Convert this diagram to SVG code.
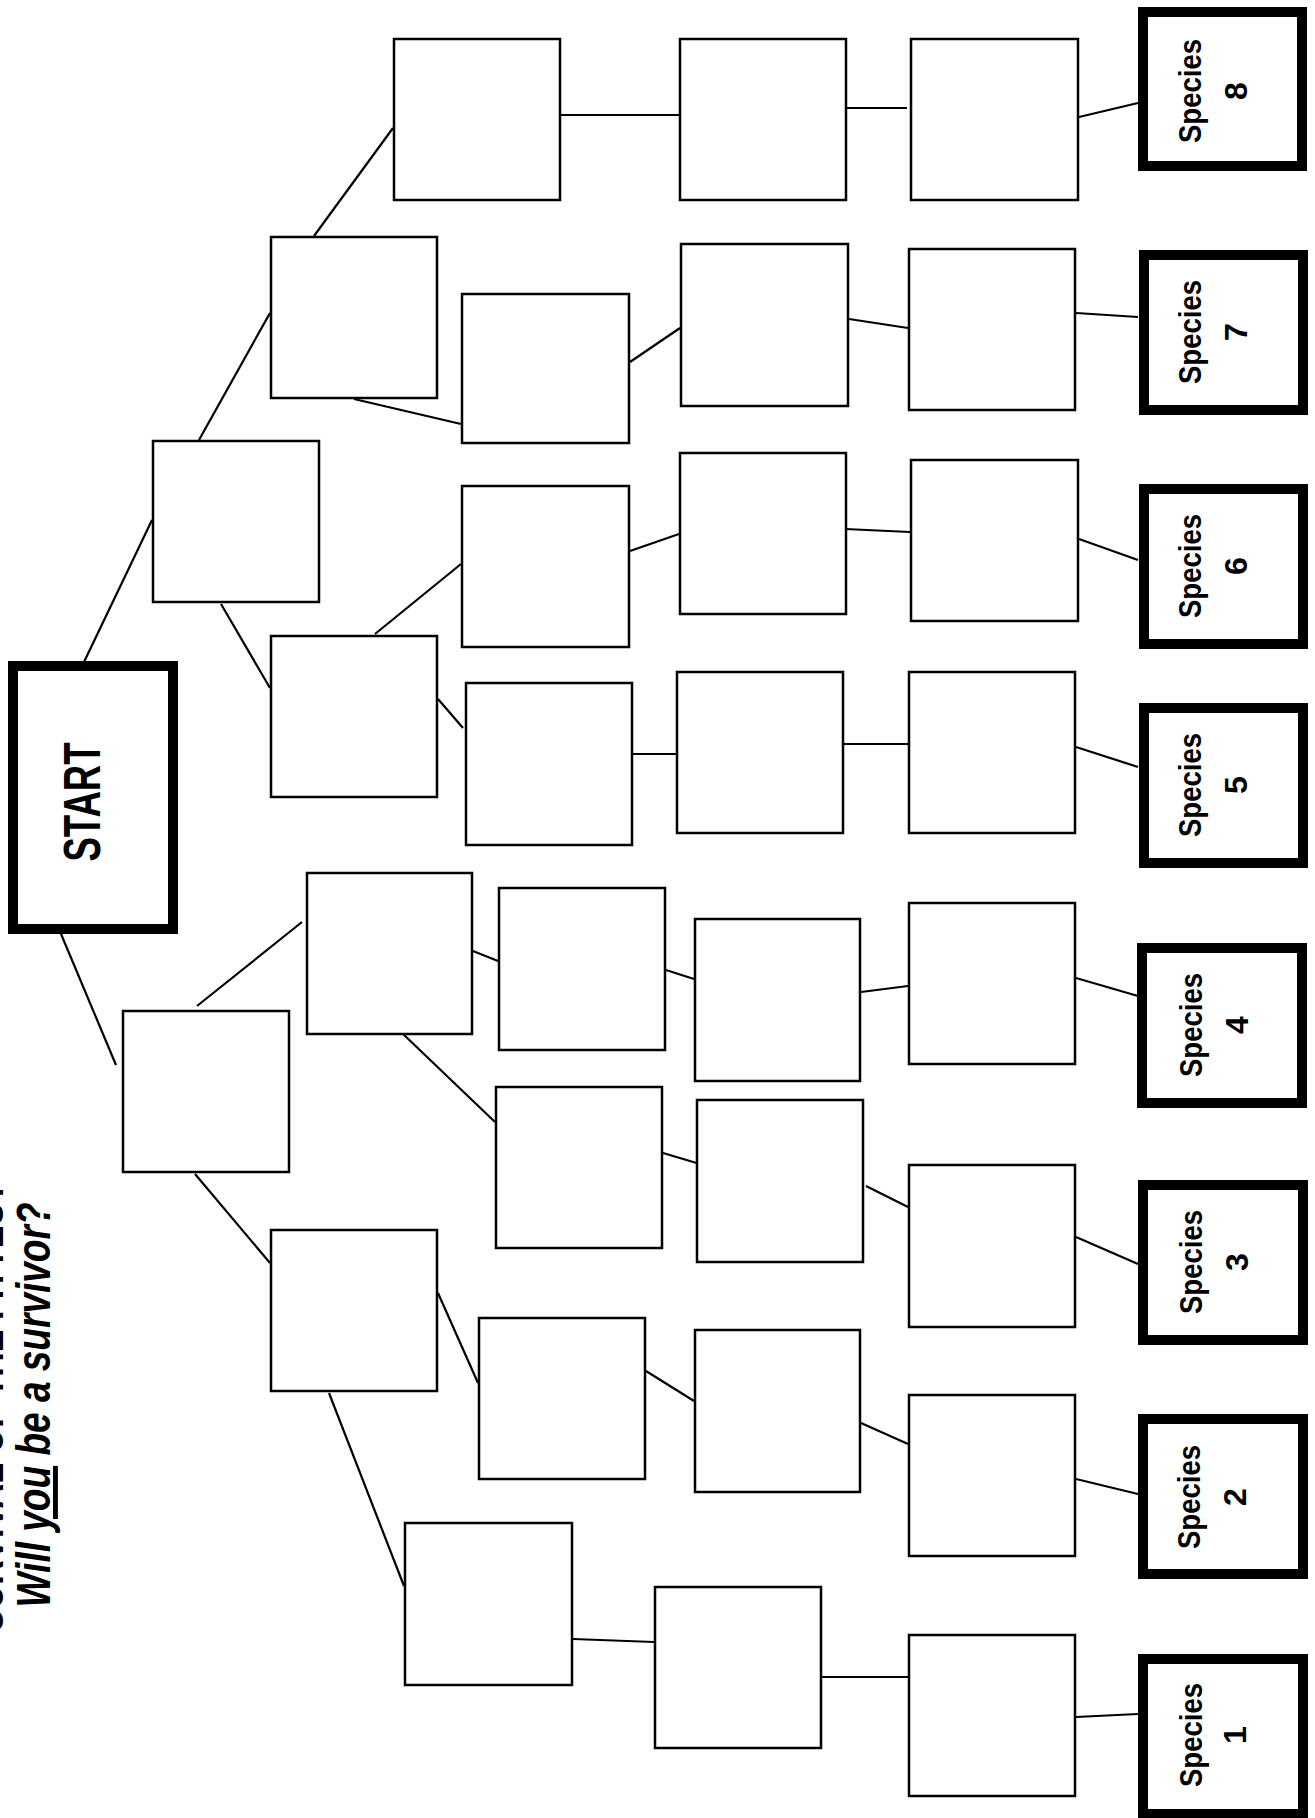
<svg xmlns="http://www.w3.org/2000/svg" width="1315" height="1818" viewBox="0 0 1315 1818">
<style>
.box{fill:#fff;stroke:#000;stroke-width:2.5}
.sp{fill:#fff;stroke:#000;stroke-width:10}
.st{fill:#fff;stroke:#000;stroke-width:10}
.ln{stroke:#000;stroke-width:2.2;fill:none}
.lbl{font-family:"Liberation Sans Narrow","Liberation Sans",Arial,sans-serif;font-weight:bold;fill:#000}
.ttl{font-family:"Liberation Sans Narrow","Liberation Sans",Arial,sans-serif;font-weight:bold;font-size:49px;fill:#000}
</style>
<rect width="1315" height="1818" fill="#fff"/>
<g id="title">
<text class="ttl" text-anchor="middle" textLength="450" lengthAdjust="spacingAndGlyphs" transform="translate(3,1407) rotate(-90)">SURVIVAL OF THE FITTEST</text>
<text class="ttl" font-style="italic" text-anchor="middle" textLength="405" lengthAdjust="spacingAndGlyphs" transform="translate(50,1405) rotate(-90)">Will <tspan text-decoration="underline">you</tspan> be a survivor?</text>
</g>
<g id="connectors">
<line class="ln" x1="84" y1="662" x2="152" y2="520"/>
<line class="ln" x1="56" y1="922" x2="116" y2="1065"/>
<line class="ln" x1="199" y1="440" x2="270" y2="313"/>
<line class="ln" x1="221" y1="604" x2="270" y2="688"/>
<line class="ln" x1="314" y1="236" x2="393" y2="128"/>
<line class="ln" x1="354" y1="399" x2="461" y2="424"/>
<line class="ln" x1="561" y1="115" x2="679" y2="115"/>
<line class="ln" x1="845" y1="108" x2="907" y2="108"/>
<line class="ln" x1="1079" y1="117" x2="1138" y2="103"/>
<line class="ln" x1="630" y1="362" x2="680" y2="328"/>
<line class="ln" x1="849" y1="319" x2="908" y2="328"/>
<line class="ln" x1="1076" y1="313" x2="1138" y2="317"/>
<line class="ln" x1="375" y1="634" x2="461" y2="564"/>
<line class="ln" x1="630" y1="551" x2="679" y2="534"/>
<line class="ln" x1="845" y1="529" x2="910" y2="532"/>
<line class="ln" x1="1079" y1="539" x2="1138" y2="560"/>
<line class="ln" x1="438" y1="699" x2="463" y2="728"/>
<line class="ln" x1="633" y1="754" x2="676" y2="754"/>
<line class="ln" x1="844" y1="744" x2="908" y2="744"/>
<line class="ln" x1="1076" y1="747" x2="1138" y2="767"/>
<line class="ln" x1="197" y1="1006" x2="302" y2="922"/>
<line class="ln" x1="195" y1="1174" x2="270" y2="1263"/>
<line class="ln" x1="473" y1="951" x2="498" y2="961"/>
<line class="ln" x1="666" y1="970" x2="694" y2="979"/>
<line class="ln" x1="861" y1="992" x2="908" y2="986"/>
<line class="ln" x1="1076" y1="978" x2="1138" y2="996"/>
<line class="ln" x1="402" y1="1033" x2="495" y2="1122"/>
<line class="ln" x1="663" y1="1153" x2="700" y2="1164"/>
<line class="ln" x1="866" y1="1186" x2="908" y2="1207"/>
<line class="ln" x1="1076" y1="1237" x2="1138" y2="1264"/>
<line class="ln" x1="438" y1="1293" x2="478" y2="1383"/>
<line class="ln" x1="646" y1="1371" x2="694" y2="1401"/>
<line class="ln" x1="861" y1="1423" x2="908" y2="1444"/>
<line class="ln" x1="1076" y1="1479" x2="1138" y2="1494"/>
<line class="ln" x1="329" y1="1393" x2="404" y2="1586"/>
<line class="ln" x1="573" y1="1639" x2="654" y2="1642"/>
<line class="ln" x1="822" y1="1677" x2="908" y2="1677"/>
<line class="ln" x1="1076" y1="1717" x2="1138" y2="1714"/>
</g>
<g id="start"><rect class="st" x="13" y="666" width="160" height="263"/><text class="lbl" font-size="52" text-anchor="middle" textLength="119" lengthAdjust="spacingAndGlyphs" transform="translate(100,802) rotate(-90)">START</text></g>
<g id="nA"><rect class="box" x="394" y="39" width="166" height="161"/></g>
<g id="nB"><rect class="box" x="680" y="39" width="166" height="161"/></g>
<g id="nC"><rect class="box" x="911" y="39" width="167" height="161"/></g>
<g id="nD"><rect class="box" x="271" y="237" width="166" height="161"/></g>
<g id="nE"><rect class="box" x="462" y="294" width="167" height="149"/></g>
<g id="nF"><rect class="box" x="681" y="244" width="167" height="162"/></g>
<g id="nG"><rect class="box" x="909" y="249" width="166" height="161"/></g>
<g id="nH"><rect class="box" x="153" y="441" width="166" height="161"/></g>
<g id="nI"><rect class="box" x="462" y="486" width="167" height="161"/></g>
<g id="nJ"><rect class="box" x="680" y="453" width="166" height="161"/></g>
<g id="nK"><rect class="box" x="911" y="460" width="167" height="161"/></g>
<g id="nL"><rect class="box" x="271" y="636" width="166" height="161"/></g>
<g id="nM"><rect class="box" x="466" y="683" width="166" height="162"/></g>
<g id="nN"><rect class="box" x="677" y="672" width="166" height="161"/></g>
<g id="nO"><rect class="box" x="909" y="672" width="166" height="161"/></g>
<g id="nP"><rect class="box" x="307" y="873" width="165" height="161"/></g>
<g id="nQ"><rect class="box" x="499" y="888" width="166" height="162"/></g>
<g id="nR"><rect class="box" x="695" y="919" width="165" height="162"/></g>
<g id="nS"><rect class="box" x="909" y="903" width="166" height="161"/></g>
<g id="nT"><rect class="box" x="123" y="1011" width="166" height="161"/></g>
<g id="nU"><rect class="box" x="496" y="1087" width="166" height="161"/></g>
<g id="nV"><rect class="box" x="697" y="1100" width="166" height="162"/></g>
<g id="nW"><rect class="box" x="909" y="1165" width="166" height="162"/></g>
<g id="nX"><rect class="box" x="271" y="1230" width="166" height="161"/></g>
<g id="nY"><rect class="box" x="479" y="1318" width="166" height="161"/></g>
<g id="nZ"><rect class="box" x="695" y="1330" width="165" height="162"/></g>
<g id="nAA"><rect class="box" x="909" y="1395" width="166" height="161"/></g>
<g id="nAB"><rect class="box" x="405" y="1523" width="167" height="162"/></g>
<g id="nAC"><rect class="box" x="655" y="1587" width="166" height="161"/></g>
<g id="nAD"><rect class="box" x="909" y="1635" width="166" height="161"/></g>
<g id="s8"><rect class="sp" x="1143" y="12" width="159" height="154"/><text class="lbl" font-size="32" text-anchor="middle" textLength="104" lengthAdjust="spacingAndGlyphs" transform="translate(1201,91) rotate(-90)">Species</text><text class="lbl" font-size="32" text-anchor="middle" transform="translate(1247,91) rotate(-90)">8</text></g>
<g id="s7"><rect class="sp" x="1144" y="255" width="159" height="155"/><text class="lbl" font-size="32" text-anchor="middle" textLength="104" lengthAdjust="spacingAndGlyphs" transform="translate(1201,332) rotate(-90)">Species</text><text class="lbl" font-size="32" text-anchor="middle" transform="translate(1247,332) rotate(-90)">7</text></g>
<g id="s6"><rect class="sp" x="1144" y="489" width="159" height="155"/><text class="lbl" font-size="32" text-anchor="middle" textLength="104" lengthAdjust="spacingAndGlyphs" transform="translate(1201,566) rotate(-90)">Species</text><text class="lbl" font-size="32" text-anchor="middle" transform="translate(1247,566) rotate(-90)">6</text></g>
<g id="s5"><rect class="sp" x="1144" y="708" width="159" height="155"/><text class="lbl" font-size="32" text-anchor="middle" textLength="104" lengthAdjust="spacingAndGlyphs" transform="translate(1201,785) rotate(-90)">Species</text><text class="lbl" font-size="32" text-anchor="middle" transform="translate(1247,785) rotate(-90)">5</text></g>
<g id="s4"><rect class="sp" x="1142" y="948" width="160" height="155"/><text class="lbl" font-size="32" text-anchor="middle" textLength="104" lengthAdjust="spacingAndGlyphs" transform="translate(1202,1025) rotate(-90)">Species</text><text class="lbl" font-size="32" text-anchor="middle" transform="translate(1248,1025) rotate(-90)">4</text></g>
<g id="s3"><rect class="sp" x="1143" y="1185" width="160" height="155"/><text class="lbl" font-size="32" text-anchor="middle" textLength="104" lengthAdjust="spacingAndGlyphs" transform="translate(1202,1262) rotate(-90)">Species</text><text class="lbl" font-size="32" text-anchor="middle" transform="translate(1248,1262) rotate(-90)">3</text></g>
<g id="s2"><rect class="sp" x="1143" y="1419" width="160" height="155"/><text class="lbl" font-size="32" text-anchor="middle" textLength="104" lengthAdjust="spacingAndGlyphs" transform="translate(1200,1497) rotate(-90)">Species</text><text class="lbl" font-size="32" text-anchor="middle" transform="translate(1246,1497) rotate(-90)">2</text></g>
<g id="s1"><rect class="sp" x="1143" y="1659" width="160" height="155"/><text class="lbl" font-size="32" text-anchor="middle" textLength="104" lengthAdjust="spacingAndGlyphs" transform="translate(1202,1735) rotate(-90)">Species</text><text class="lbl" font-size="32" text-anchor="middle" transform="translate(1246,1735) rotate(-90)">1</text></g>
</svg>
